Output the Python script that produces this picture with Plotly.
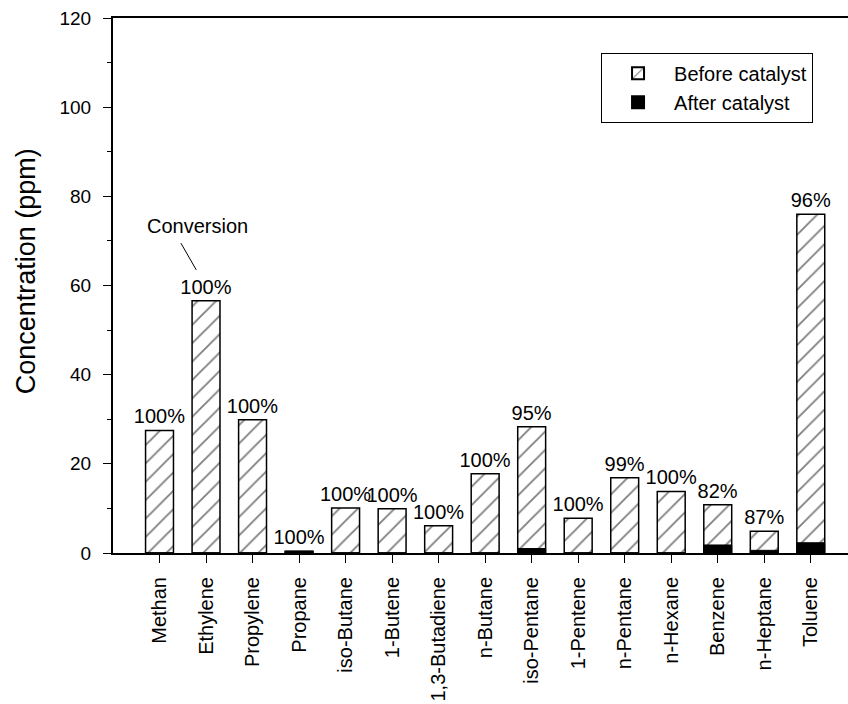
import plotly.graph_objects as go

# Compounds measured in the gas stream
compounds = ["Methan", "Ethylene", "Propylene", "Propane", "iso-Butane", "1-Butene",
             "1,3-Butadiene", "n-Butane", "iso-Pentane", "1-Pentene", "n-Pentane",
             "n-Hexane", "Benzene", "n-Heptane", "Toluene"]

# Concentrations (ppm) before and after the catalyst
before_ppm = [27.5, 56.6, 29.9, 0.4, 10.1, 9.9, 6.1, 17.8, 28.3, 7.8, 16.9, 13.8, 10.8, 4.9, 76.0]
after_ppm = [0, 0, 0, 0.4, 0, 0, 0, 0, 1.0, 0, 0, 0, 1.8, 0.6, 2.3]

# Conversion labels shown above each bar
conversion = ["100%", "100%", "100%", "100%", "100%", "100%", "100%", "100%",
              "95%", "100%", "99%", "100%", "82%", "87%", "96%"]

FONT = "Liberation Sans, Arial, sans-serif"

fig = go.Figure()
fig.add_trace(go.Bar(
    x=compounds, y=before_ppm, name="Before catalyst", width=0.6,
    marker=dict(color="white", line=dict(color="black", width=1.5),
                pattern=dict(shape="/", fgcolor="black", bgcolor="white",
                             size=13, solidity=0.14)),
    text=conversion, textposition="outside", cliponaxis=False,
    constraintext="none",
    outsidetextfont=dict(size=20, color="black", family=FONT),
))
fig.add_trace(go.Bar(
    x=compounds, y=after_ppm, name="After catalyst", width=0.6,
    marker=dict(color="black", line=dict(color="black", width=1)),
))

# Callout for the conversion labels
fig.add_shape(type="line", x0=0.46, y0=69.5, x1=0.79, y1=63.5,
              line=dict(color="black", width=1))
fig.add_annotation(x=0.82, y=73.3, text="Conversion", showarrow=False,
                   font=dict(size=20, color="black", family=FONT))

# Y-axis title
fig.add_annotation(xref="paper", yref="paper", x=-0.118, y=0.527,
                   xanchor="center", yanchor="middle", textangle=-90,
                   text="Concentration (ppm)", showarrow=False,
                   font=dict(size=27, color="black", family=FONT))

fig.update_layout(
    width=848, height=704,
    margin=dict(l=113, r=0, t=18, b=151),
    barmode="overlay",
    plot_bgcolor="white", paper_bgcolor="white",
    font=dict(family=FONT, size=20, color="black"),
    showlegend=True,
    legend=dict(x=0.664, y=0.935, xanchor="left", yanchor="top",
                bordercolor="black", borderwidth=1, bgcolor="white",
                font=dict(size=20, family=FONT), traceorder="normal",
                itemsizing="constant", itemwidth=62),
)
fig.update_xaxes(
    range=[-1, 14.8], showline=True, linecolor="black", linewidth=2, mirror=True,
    ticks="outside", ticklen=8, tickwidth=1, tickcolor="black",
    ticklabelstandoff=6,
    tickangle=-90, tickfont=dict(size=20, family=FONT), showgrid=False,
)
fig.update_yaxes(
    range=[0, 120], tickvals=[0, 20, 40, 60, 80, 100, 120],
    showline=True, linecolor="black", linewidth=2,
    ticks="outside", ticklen=8, tickwidth=1, tickcolor="black",
    ticklabelstandoff=8,
    minor=dict(dtick=10, ticks="outside", ticklen=4, tickwidth=1, tickcolor="black"),
    tickfont=dict(size=19, family=FONT), showgrid=False, zeroline=False,
)

fig.write_html("out.html")
